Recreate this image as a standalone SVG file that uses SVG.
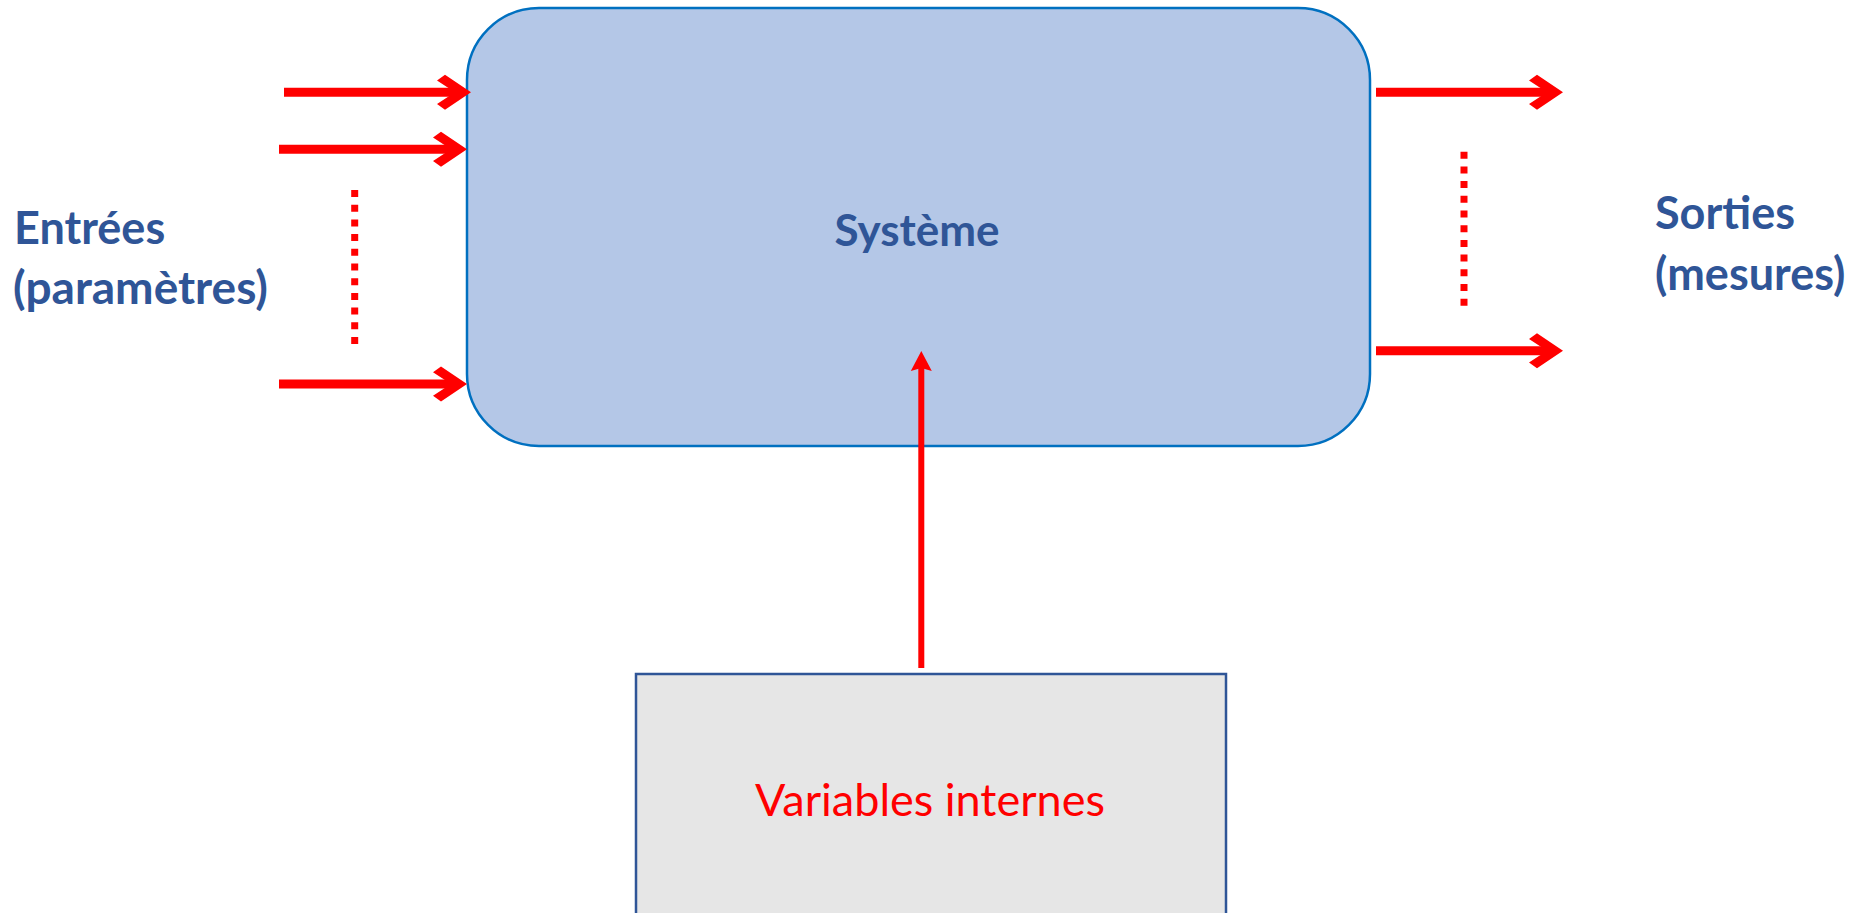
<svg xmlns="http://www.w3.org/2000/svg" width="1874" height="913" viewBox="0 0 1874 913">
  <style>
    .lbl { font-family: Lato, "Liberation Sans", sans-serif; font-weight: bold; fill: #2F5597; }
    .arrow { stroke: #FF0000; stroke-width: 9; fill: none; }
    .dots { stroke: #FF0000; stroke-width: 7; stroke-dasharray: 7 7.7; fill: none; }
  </style>
  <defs>
    <marker id="head" markerUnits="userSpaceOnUse" orient="auto" refX="0" refY="0" markerWidth="60" markerHeight="60" viewBox="-30 -30 60 60" overflow="visible">
      <path d="M10,0 L-16,-17.5 L-24,-11.7 L-6,0 L-24,11.7 L-16,17.5 Z" fill="#FF0000"/>
    </marker>
    <marker id="headSmall" markerUnits="userSpaceOnUse" orient="auto" refX="0" refY="0" markerWidth="40" markerHeight="40" viewBox="-20 -20 40 40" overflow="visible">
      <path d="M17,0 L-3,-10.5 L0,0 L-3,10.5 Z" fill="#FF0000"/>
    </marker>
  </defs>

  <g id="systeme">
    <rect x="467" y="8" width="903" height="438" rx="72" ry="72" fill="#B4C7E7" stroke="#0070C0" stroke-width="2.5"/>
    <text class="lbl" x="917" y="246" font-size="44" text-anchor="middle">Système</text>
  </g>

  <g id="variables-internes">
    <rect x="636" y="674" width="590" height="264" fill="#E6E6E6" stroke="#2F5597" stroke-width="2.5"/>
    <text x="930" y="816" font-family="Lato, 'Liberation Sans', sans-serif" font-size="45" fill="#FF0000" text-anchor="middle">Variables internes</text>
  </g>

  <g id="entrees">
    <text class="lbl" x="14" y="244" font-size="45">Entrées</text>
    <text class="lbl" x="13" y="304" font-size="46">(paramètres)</text>
  </g>

  <g id="sorties">
    <text class="lbl" x="1655" y="229" font-size="45">Sorties</text>
    <text class="lbl" x="1655" y="290" font-size="45">(mesures)</text>
  </g>

  <g id="connectors">
    <line class="arrow" x1="284" y1="92.3" x2="461" y2="92.3" marker-end="url(#head)"/>
    <line class="arrow" x1="279" y1="149.3" x2="457" y2="149.3" marker-end="url(#head)"/>
    <line class="arrow" x1="279" y1="384" x2="457" y2="384" marker-end="url(#head)"/>
    <line class="dots" x1="354.7" y1="190" x2="354.7" y2="345"/>

    <line class="arrow" x1="1376" y1="92.3" x2="1553" y2="92.3" marker-end="url(#head)"/>
    <line class="arrow" x1="1376" y1="350.7" x2="1553" y2="350.7" marker-end="url(#head)"/>
    <line class="dots" x1="1464" y1="151.7" x2="1464" y2="306"/>

    <line stroke="#FF0000" stroke-width="6" x1="921.3" y1="668" x2="921.3" y2="368" marker-end="url(#headSmall)"/>
  </g>
</svg>
